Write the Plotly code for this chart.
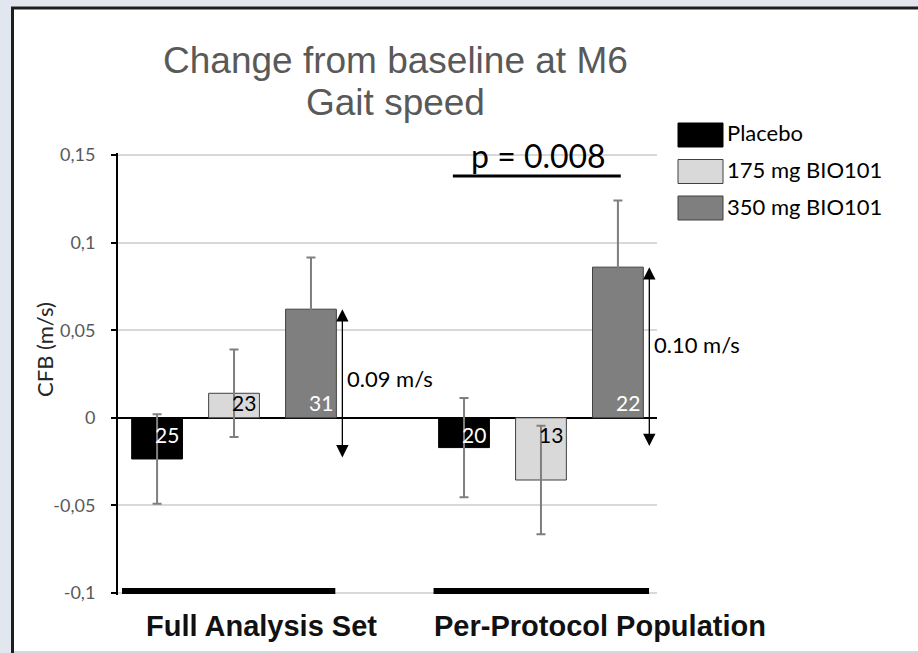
import plotly.graph_objects as go

# ---------------- data ----------------
categories = ["Full Analysis Set", "Per-Protocol Population"]
series_names = ["Placebo", "175 mg BIO101", "350 mg BIO101"]
placebo = [-0.0235, -0.017]
dose175 = [0.014, -0.0355]
dose350 = [0.062, 0.086]
err_placebo = [0.0255, 0.0283]
err_175 = [0.025, 0.031]
err_350 = [0.0295, 0.038]
n_placebo = [25, 20]
n_175 = [23, 13]
n_350 = [31, 22]
diff_labels = ["0.09 m/s", "0.10 m/s"]
p_label = "p = 0.008"
ytick_vals = [-0.1, -0.05, 0, 0.05, 0.1, 0.15]
ytick_text = ["-0,1", "-0,05", "0", "0,05", "0,1", "0,15"]
title_lines = ["Change from baseline at M6", "Gait speed"]
y_title = "CFB (m/s)"

values = [placebo, dose175, dose350]
errors = [err_placebo, err_175, err_350]
counts = [n_placebo, n_175, n_350]

# ---------------- layout geometry ----------------
W, H = 918, 653
EDGE = 2  # px of breathing room so edge gridlines are drawn
L, R, T, B = 118, 261, 155 - EDGE, 60 - EDGE
PW, PH = W - L - R, H - T - B
YMIN, YMAX = -0.1, 0.15
UNIT = (PH - 2 * EDGE) / (YMAX - YMIN)
yrange = [YMIN - EDGE / UNIT, YMAX + EDGE / UNIT]


def px(x):
    return (x - L) / PW


def py(y):
    return (H - B - y) / PH


bargap = 0.248
bargroupgap = 0.34
slot = (1 - bargap) / 3
bw = slot * (1 - bargroupgap)

fills = ["#000000", "#d9d9d9", "#7f7f7f"]
outlines = ["#000000", "#404040", "#404040"]
count_colors = ["white", "black", "white"]

CAL = "Lato, 'Open Sans', sans-serif"
ARIAL = "'Liberation Sans', Arial, sans-serif"

fig = go.Figure()
for i in range(3):
    fig.add_trace(go.Bar(
        x=categories, y=values[i], name=series_names[i],
        marker=dict(color=fills[i], line=dict(color=outlines[i], width=1)),
        error_y=dict(type="data", array=errors[i], color="#7f7f7f",
                     thickness=2, width=4.5),
        showlegend=False,
    ))

shapes = []
annotations = []

# frame
shapes.append(dict(type="rect", xref="paper", yref="paper", layer="below",
                   x0=px(14), x1=px(W + 2), y0=py(651), y1=py(9),
                   fillcolor="white", line=dict(width=0)))
shapes.append(dict(type="line", xref="paper", yref="paper",
                   x0=px(14), x1=px(W + 2), y0=py(652), y1=py(652),
                   line=dict(color="#d0d3da", width=1.5)))
shapes.append(dict(type="line", xref="paper", yref="paper",
                   x0=px(12.5), x1=px(12.5), y0=py(H + 2), y1=py(7.5),
                   line=dict(color="#1e1e1e", width=3)))
shapes.append(dict(type="line", xref="paper", yref="paper",
                   x0=px(11), x1=px(W + 2), y0=py(8), y1=py(8),
                   line=dict(color="#1e1e1e", width=3)))

# title
for k, line in enumerate(title_lines):
    annotations.append(dict(text=line, xref="paper", yref="paper",
                            x=px(395), y=py([60, 103][k]), xanchor="center",
                            yanchor="middle", showarrow=False,
                            font=dict(family=ARIAL, size=37, color="#595959")))

# y title
annotations.append(dict(text=y_title, xref="paper", yref="paper",
                        x=px(44), y=py(350), textangle=-90, showarrow=False,
                        xanchor="center", yanchor="middle",
                        font=dict(family=CAL, size=22, color="#262626")))

# category labels
xshifts = [27, 59]
for j, c in enumerate(categories):
    annotations.append(dict(text="<b>%s</b>" % c, xref="x", yref="paper",
                            x=j, y=py(626), xshift=xshifts[j], showarrow=False,
                            xanchor="center", yanchor="middle",
                            font=dict(family=ARIAL, size=29, color="#111111")))
    # thick black base bar
    shapes.append(dict(type="rect", xref="x", yref="paper",
                       x0=j - 0.365 + 0.015 * j, x1=j + 0.33 + 0.022 * j,
                       y0=py(594), y1=py(588),
                       fillcolor="black", line=dict(width=0)))

# count labels
for i in range(3):
    for j in range(2):
        v = values[i][j]
        annotations.append(dict(
            text=str(counts[i][j]), xref="x", yref="y",
            x=j + (i - 1) * slot + bw / 2, y=0, xshift=-1,
            yshift=1 if v > 0 else -2,
            xanchor="right", yanchor="bottom" if v > 0 else "top",
            showarrow=False,
            font=dict(family=CAL, size=21, color=count_colors[i])))

# difference arrows
label_yshift = [6, 13]
for j in range(2):
    xa = j + slot + bw / 2
    annotations.append(dict(
        text="", xref="x", yref="y", x=xa, y=dose350[j],
        axref="x", ayref="y", ax=xa, ay=placebo[j], xshift=6,
        showarrow=True, arrowside="end+start", arrowhead=2,
        startarrowhead=2, arrowwidth=1.3, arrowsize=1.9,
        startarrowsize=1.9, arrowcolor="black", standoff=0, startstandoff=0))
    annotations.append(dict(
        text=diff_labels[j], xref="x", yref="y", x=xa,
        y=(dose350[j] + placebo[j]) / 2, xshift=9, yshift=label_yshift[j],
        xanchor="left", yanchor="middle", showarrow=False,
        font=dict(family=CAL, size=22, color="black")))

# p value
annotations.append(dict(text=p_label, xref="x", yref="paper", x=1,
                        y=py(155), xshift=-2, showarrow=False,
                        xanchor="center", yanchor="middle",
                        font=dict(family=CAL, size=32, color="black")))
shapes.append(dict(type="line", xref="x", yref="paper",
                   x0=1 - 0.287, x1=1 + 0.26, y0=py(176), y1=py(176),
                   line=dict(color="black", width=3)))

# legend
leg_y = [135, 171.5, 208]
for i in range(3):
    shapes.append(dict(type="rect", xref="paper", yref="paper",
                       x0=px(678), x1=px(723),
                       y0=py(leg_y[i] + 12), y1=py(leg_y[i] - 12),
                       fillcolor=fills[i],
                       line=dict(color=outlines[i], width=1)))
    annotations.append(dict(text=series_names[i], xref="paper", yref="paper",
                            x=px(725), y=py(leg_y[i] - 2), xanchor="left",
                            yanchor="middle", showarrow=False,
                            font=dict(family=CAL, size=22, color="black")))

fig.update_layout(
    width=W, height=H,
    margin=dict(l=L, r=R, t=T, b=B, pad=0),
    paper_bgcolor="#e2e6ef", plot_bgcolor="white",
    barmode="group", bargap=bargap, bargroupgap=bargroupgap,
    showlegend=False,
    shapes=shapes, annotations=annotations,
    xaxis=dict(type="category", range=[-0.378, 1.378], showticklabels=False,
               showgrid=False, showline=False, ticks="", zeroline=False),
    yaxis=dict(range=yrange, tickvals=ytick_vals, ticktext=ytick_text,
               showline=True, linecolor="black", linewidth=2,
               ticks="outside", ticklen=5, tickwidth=2, tickcolor="black",
               showgrid=True, gridcolor="#d9d9d9", gridwidth=1.5,
               zeroline=True, zerolinecolor="black", zerolinewidth=2,
               ticklabelstandoff=12,
               tickfont=dict(family=CAL, size=18, color="#595959")),
)

fig.write_html("out.html")
